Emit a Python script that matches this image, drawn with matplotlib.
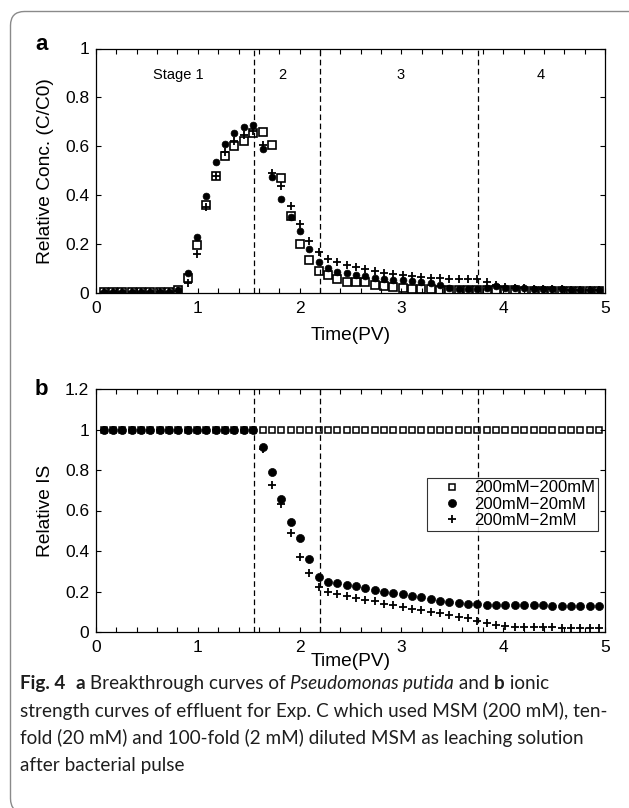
import matplotlib
matplotlib.use("Agg")
import matplotlib.pyplot as plt
from matplotlib.patches import FancyBboxPatch
from matplotlib.transforms import IdentityTransform
from matplotlib.ticker import MultipleLocator, FuncFormatter

# ---------------- data ----------------
time_pv = [0.075, 0.167, 0.259, 0.350, 0.442, 0.534, 0.626, 0.718, 0.809, 0.901,
           0.993, 1.085, 1.177, 1.268, 1.360, 1.452, 1.544, 1.636, 1.727, 1.819,
           1.911, 2.003, 2.095, 2.186, 2.278, 2.370, 2.462, 2.554, 2.645, 2.737,
           2.829, 2.921, 3.013, 3.104, 3.196, 3.288, 3.380, 3.472, 3.563, 3.655,
           3.747, 3.839, 3.931, 4.022, 4.114, 4.206, 4.298, 4.390, 4.481, 4.573,
           4.665, 4.757, 4.849, 4.940]

labels = ["200mM\u2212200mM", "200mM\u221220mM", "200mM\u22122mM"]

# panel a: relative concentration C/C0
conc_200 = [0.003, 0.003, 0.003, 0.003, 0.003, 0.003, 0.003, 0.003, 0.012, 0.060,
            0.196, 0.359, 0.477, 0.559, 0.600, 0.623, 0.655, 0.658, 0.607, 0.471,
            0.315, 0.201, 0.133, 0.092, 0.073, 0.058, 0.046, 0.045, 0.044, 0.032,
            0.027, 0.025, 0.021, 0.018, 0.018, 0.016, 0.014, 0.014, 0.014, 0.014,
            0.014, 0.012, 0.012, 0.011, 0.011, 0.010, 0.010, 0.010, 0.010, 0.009,
            0.009, 0.009, 0.009, 0.008]
conc_20 = [0.003, 0.003, 0.003, 0.003, 0.003, 0.003, 0.003, 0.003, 0.012, 0.080,
           0.229, 0.396, 0.537, 0.610, 0.655, 0.677, 0.688, 0.589, 0.475, 0.386,
           0.312, 0.253, 0.182, 0.126, 0.101, 0.085, 0.082, 0.073, 0.068, 0.062,
           0.059, 0.055, 0.052, 0.048, 0.045, 0.041, 0.034, 0.021, 0.018, 0.018,
           0.018, 0.020, 0.027, 0.022, 0.020, 0.019, 0.018, 0.017, 0.016, 0.015,
           0.014, 0.013, 0.012, 0.011]
conc_2 = [0.003, 0.003, 0.003, 0.003, 0.003, 0.003, 0.003, 0.003, 0.008, 0.040,
          0.158, 0.350, 0.477, 0.575, 0.620, 0.648, 0.664, 0.605, 0.490, 0.438,
          0.356, 0.284, 0.212, 0.167, 0.140, 0.126, 0.114, 0.105, 0.099, 0.089,
          0.082, 0.078, 0.073, 0.068, 0.064, 0.062, 0.060, 0.059, 0.059, 0.058,
          0.058, 0.044, 0.034, 0.026, 0.022, 0.020, 0.018, 0.017, 0.016, 0.015,
          0.014, 0.013, 0.012, 0.011]

# panel b: relative ionic strength
is_200 = [1.0] * 54
is_20 = [1.0, 1.0, 1.0, 1.0, 1.0, 1.0, 1.0, 1.0, 1.0, 1.0,
         1.0, 1.0, 1.0, 1.0, 1.0, 1.0, 1.0, 0.916, 0.790, 0.659,
         0.544, 0.466, 0.359, 0.274, 0.249, 0.241, 0.233, 0.225, 0.216, 0.208,
         0.200, 0.193, 0.187, 0.179, 0.171, 0.162, 0.154, 0.148, 0.143, 0.139,
         0.136, 0.134, 0.133, 0.133, 0.132, 0.132, 0.131, 0.131, 0.130, 0.130,
         0.129, 0.129, 0.128, 0.128]
is_2 = [1.0, 1.0, 1.0, 1.0, 1.0, 1.0, 1.0, 1.0, 1.0, 1.0,
        1.0, 1.0, 1.0, 1.0, 1.0, 1.0, 1.0, 0.905, 0.725, 0.630,
        0.487, 0.369, 0.290, 0.220, 0.200, 0.187, 0.179, 0.167, 0.159, 0.151,
        0.140, 0.131, 0.125, 0.116, 0.108, 0.100, 0.092, 0.084, 0.075, 0.067,
        0.056, 0.043, 0.034, 0.030, 0.026, 0.025, 0.024, 0.023, 0.023, 0.022,
        0.022, 0.021, 0.021, 0.020]

stage_bounds = [1.55, 2.2, 3.75]
stage_names = ["Stage 1", "2", "3", "4"]
stage_pos = [0.805, 1.83, 2.99, 4.37]

xticks = [0, 1, 2, 3, 4, 5]
yticks_a = [0, 0.2, 0.4, 0.6, 0.8, 1.0]
yticks_b = [0, 0.2, 0.4, 0.6, 0.8, 1.0, 1.2]

caption_lines = [
    [("Fig. 4", "bold", "normal"), ("  ", "normal", "normal"), ("a", "bold", "normal"),
     (" Breakthrough curves of ", "normal", "normal"),
     ("Pseudomonas putida", "normal", "italic"), (" and ", "normal", "normal"),
     ("b", "bold", "normal"), (" ionic", "normal", "normal")],
    [("strength curves of effluent for Exp. C which used MSM (200 mM), ten-", "normal", "normal")],
    [("fold (20 mM) and 100-fold (2 mM) diluted MSM as leaching solution", "normal", "normal")],
    [("after bacterial pulse", "normal", "normal")],
]

# ---------------- figure ----------------
W, H = 629, 808
plt.rcParams["font.family"] = ["Liberation Sans", "DejaVu Sans"]
fig = plt.figure(figsize=(W / 100, H / 100), dpi=100)


def fx(px):
    return px / W


def fy(py):
    return 1 - py / H


L, R = 96, 605
ax_a = fig.add_axes([fx(L), fy(293), fx(R) - fx(L), fy(48.5) - fy(293)])
ax_b = fig.add_axes([fx(L), fy(632), fx(R) - fx(L), fy(389) - fy(632)])

fmt = FuncFormatter(lambda v, p: "%g" % v)

for ax, yt, ylab in [(ax_a, yticks_a, "Relative Conc. (C/C0)"), (ax_b, yticks_b, "Relative IS")]:
    ax.set_xlim(0, 5)
    ax.set_ylim(yt[0], yt[-1])
    ax.set_xticks(xticks)
    ax.set_yticks(yt)
    ax.xaxis.set_minor_locator(MultipleLocator(0.2))
    ax.xaxis.set_major_formatter(fmt)
    ax.yaxis.set_major_formatter(fmt)
    ax.tick_params(which="both", direction="in", top=True, right=True,
                   length=3.5, width=0.8, labelsize=12.5, pad=5)
    ax.tick_params(axis="x", which="both", pad=6)
    for s in ax.spines.values():
        s.set_linewidth(0.9)
    for xb in stage_bounds:
        ax.axvline(xb, color="black", lw=0.9, ls=(0, (4.5, 2.8)), zorder=1)
    ax.set_ylabel(ylab, fontsize=13.8)
    ax.yaxis.set_label_coords((54 - L) / (R - L), 0.5)
    ax.set_xlabel("Time(PV)", fontsize=13.8)

ax_a.xaxis.set_label_coords(0.5, -(327 - 293) / (293 - 48.5))
ax_b.xaxis.set_label_coords(0.5, -(653 - 632) / (632 - 389))

# panel a markers
ax_a.plot(time_pv, conc_200, ls="none", marker="s", ms=5.2, mfc="none", mec="black", mew=1.2, zorder=3)
ax_a.plot(time_pv, conc_20, ls="none", marker="o", ms=4.9, mfc="black", mec="black", mew=0.5, zorder=4)
ax_a.plot(time_pv, conc_2, ls="none", marker="+", ms=6, mec="black", mew=1.3, zorder=5)

for name, xp in zip(stage_names, stage_pos):
    ax_a.text(xp, 0.89, name, ha="center", va="center", fontsize=10.5)

# panel b markers
hs, = ax_b.plot(time_pv, is_200, ls="none", marker="s", ms=4.4, mfc="none", mec="black", mew=1.1, zorder=3)
hc, = ax_b.plot(time_pv, is_20, ls="none", marker="o", ms=5.8, mfc="black", mec="black", mew=0.5, zorder=4)
hp, = ax_b.plot(time_pv, is_2, ls="none", marker="+", ms=6, mec="black", mew=1.3, zorder=5)

leg = ax_b.legend([hs, hc, hp], labels, loc="upper right",
                  bbox_to_anchor=((598 - L) / (R - L), (632 - 478) / (632 - 389)),
                  fontsize=12, frameon=True, fancybox=False, borderpad=0.15,
                  handlelength=2.7, handletextpad=0.0, labelspacing=0.08,
                  borderaxespad=0.0, markerscale=1.0)
leg.get_frame().set_edgecolor("black")
leg.get_frame().set_linewidth(0.8)

# panel letters
fig.text(fx(35), fy(50), "a", fontsize=16, fontweight="bold", ha="left", va="baseline")
fig.text(fx(35), fy(395), "b", fontsize=16, fontweight="bold", ha="left", va="baseline")

# rounded frame (right and bottom edges fall outside the image)
frame = FancyBboxPatch((10.5, -4.5), 650, 801, boxstyle="round,pad=0,rounding_size=14",
                       transform=IdentityTransform(), fill=False, edgecolor="#8a8a8a",
                       linewidth=1.0, clip_on=False)
fig.add_artist(frame)

# caption
cap_font = ["Lato", "DejaVu Sans"]
renderer = fig.canvas.get_renderer()
probe = fig.text(0, 0, caption_lines[1][0][0], fontsize=10, family=cap_font)
w10 = probe.get_window_extent(renderer=renderer).width
probe.remove()
cap_size = 10 * 586.0 / w10
baselines = [689, 716.5, 744, 771.5]
for pieces, base in zip(caption_lines, baselines):
    xcur = 20.0
    for txt, weight, style in pieces:
        t = fig.text(fx(xcur), fy(base), txt, fontsize=cap_size, fontweight=weight,
                     fontstyle=style, family=cap_font, ha="left", va="baseline", color="#1e1e1e")
        xcur += t.get_window_extent(renderer=renderer).width

fig.savefig("out.png", dpi=100)
